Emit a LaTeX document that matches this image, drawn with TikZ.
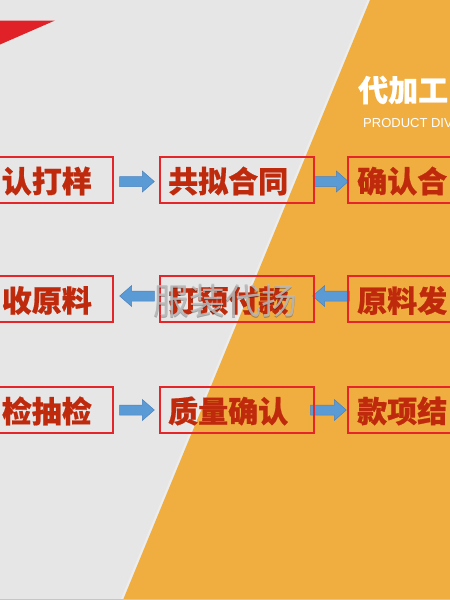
\documentclass[tikz,border=0pt]{standalone}
\usepackage{fontspec}
\setmainfont{Liberation Sans}
\newfontfamily\cjk[BoldFeatures={FakeBold=0.7}]{Noto Sans CJK SC}
\usetikzlibrary{calc}
\definecolor{bggray}{HTML}{E6E6E6}
\definecolor{orng}{HTML}{F0AE41}
\definecolor{redtri}{HTML}{E02228}
\definecolor{boxred}{HTML}{E4262B}
\definecolor{txtred}{HTML}{C02A0C}
\definecolor{arrblue}{HTML}{5B9BD5}
\definecolor{arrdark}{HTML}{4A82BE}
\definecolor{wmgray}{HTML}{BDBDBD}
\pgfdeclarelayer{back}
\pgfdeclarelayer{mid}
\pgfsetlayers{back,mid,main}
\newcommand\blockarr[2]{%
  \draw[barrow] let \p1=#1, \p2=#2, \p3=($(\p2)!12pt!(\p1)$) in
      (\x1,\y1+5pt) -- (\x3,\y1+5pt) -- (\x3,\y1+10.5pt) -- (\x2,\y1)
      -- (\x3,\y1-10.5pt) -- (\x3,\y1-5pt) -- (\x1,\y1-5pt) -- cycle;}
\begin{document}
\begin{tikzpicture}[x=1pt,y=-1pt,
  stepbox/.style={draw=boxred, line width=1.4pt, minimum width=154pt, minimum height=46pt, inner sep=0pt},
  steptext/.style={font=\cjk\bfseries\fontsize{30}{30}\selectfont, text=txtred, inner sep=0pt},
  barrow/.style={fill=arrblue, draw=arrdark, line width=0.5pt}]
\clip (0,0) rectangle (450,600);
\useasboundingbox (0,0) rectangle (450,600);
\begin{pgfonlayer}{back}
  \fill[bggray] (0,0) rectangle (450,600);
  \fill[orng] (370,0) -- (450,0) -- (450,600) -- (123,600) -- cycle;
  \draw[white, opacity=0.3, line width=2pt] (368.6,0) -- (121.6,600);
  \fill[gray!45] (0,598.8) rectangle (450,600);
  \fill[redtri] (0,20.5) -- (55,20.5) -- (0,44.5) -- cycle;
\end{pgfonlayer}

% title
\node[anchor=west, inner sep=0pt, text=white, font=\cjk\bfseries\fontsize{30}{30}\selectfont] (title) at (358,90) {代加工};
\node[anchor=west, inner sep=0pt, text=white, font=\fontsize{13}{13}\selectfont] (sub) at (363,123) {PRODUCT DIV};

% boxes
\node[stepbox] (b11) at (36,180) {};
\node[stepbox] (b12) at (237,180) {};
\node[stepbox] (b13) at (425,180) {};
\node[stepbox] (b21) at (36,299) {};
\node[stepbox] (b22) at (237,299) {};
\node[stepbox] (b23) at (425,299) {};
\node[stepbox] (b31) at (36,410) {};
\node[stepbox] (b32) at (237,410) {};
\node[stepbox] (b33) at (425,410) {};

% texts
\node[steptext, anchor=east] (t11) at (92,181) {认打样};
\node[steptext, anchor=west] (t12) at (168,181) {共拟合同};
\node[steptext, anchor=west] (t13) at (357,181) {确认合};
\node[steptext, anchor=east] (t21) at (92,300.5) {收原料};
\node[steptext, anchor=west] (t22) at (168,300.5) {打预付款};
\node[steptext, anchor=west] (t23) at (357,300.5) {原料发};
\node[steptext, anchor=east] (t31) at (92,411) {检抽检};
\node[steptext, anchor=west] (t32) at (168,411) {质量确认};
\node[steptext, anchor=west] (t33) at (357,411) {款项结};

% arrows
\begin{pgfonlayer}{mid}
  \blockarr{($(b11.east)+(6,1.5)$)}{($(b12.west)+(-5,1.5)$)}
  \blockarr{($(b12.east)+(-1,1.5)$)}{($(b13.west)+(1,1.5)$)}
  \blockarr{($(b22.west)+(-5,-3)$)}{($(b21.east)+(6,-3)$)}
  \blockarr{($(b23.west)+(2,-3)$)}{($(b22.east)+(-2,-3)$)}
  \blockarr{($(b31.east)+(6,0)$)}{($(b32.west)+(-5,0)$)}
  \blockarr{($(b32.east)+(-4,0)$)}{($(b33.west)+(-1,0)$)}
\end{pgfonlayer}

% watermark
\node[text=black, opacity=0.3, font=\cjk\fontsize{36}{36}\selectfont, inner sep=0pt] (wmshadow) at (225.8,301.8) {服装代扬};
\node[text=wmgray, opacity=0.85, font=\cjk\fontsize{36}{36}\selectfont, inner sep=0pt] (wm) at (225,301) {服装代扬};
\end{tikzpicture}
\end{document}
